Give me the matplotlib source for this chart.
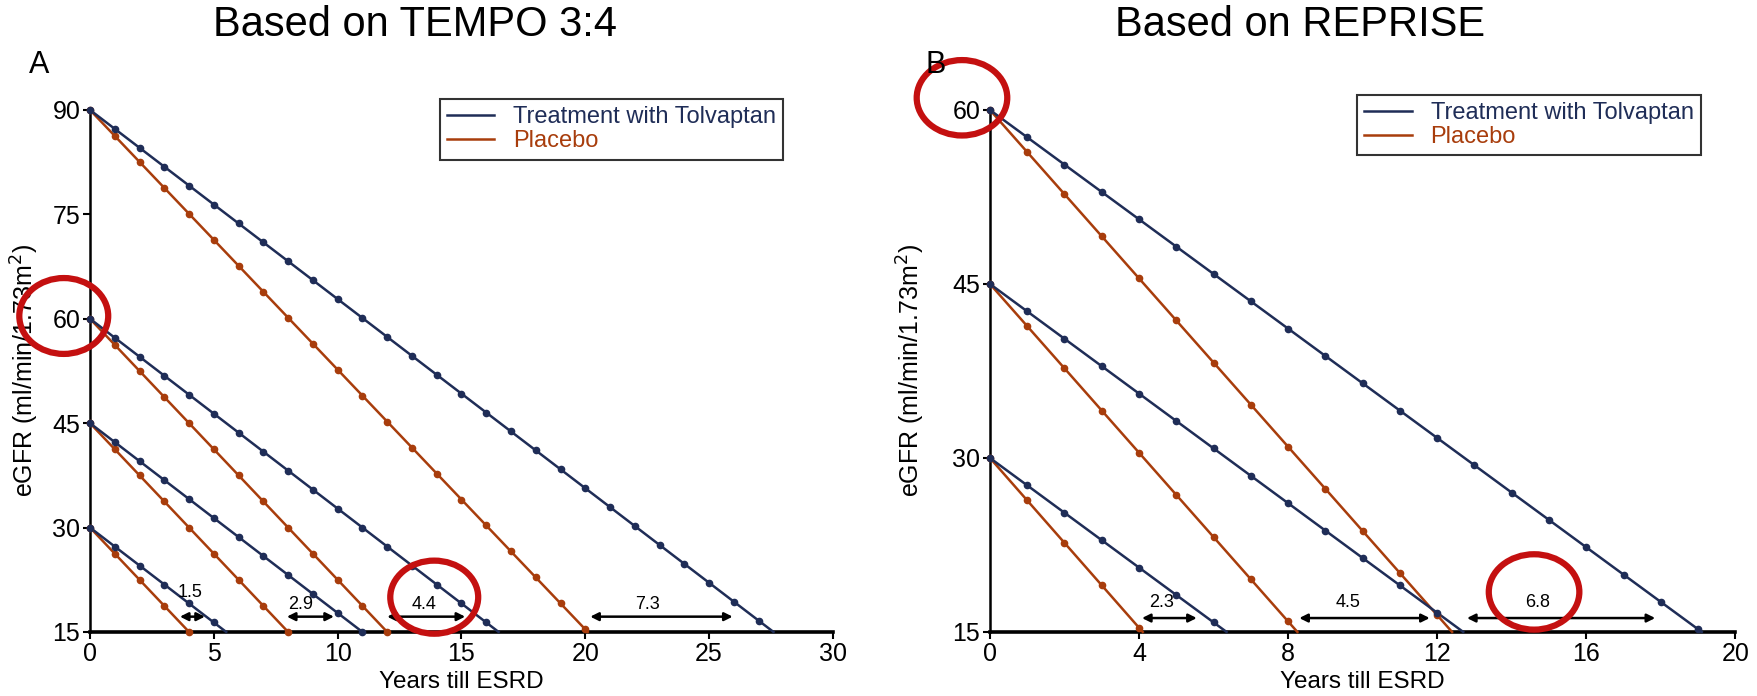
import numpy as np
import matplotlib
matplotlib.use("Agg")
import matplotlib.pyplot as plt
from matplotlib.patches import Ellipse

plt.rcParams.update({"font.family": ["Liberation Sans", "DejaVu Sans"], "font.size": 17})

navy = "#1f2d57"
rust = "#a83d0c"
ring = "#c41010"

# Panel A: TEMPO 3:4
a_start = [90, 60, 45, 30]
a_tolv_end = [27.6, 16.5, 11.0, 5.5]
a_plac_end = [20.1, 12.0, 8.0, 4.0]
a_gap_from = [3.63, 7.95, 12.0, 20.2]
a_gap_to = [4.64, 9.85, 15.15, 25.95]
a_gap_text = ["1.5", "2.9", "4.4", "7.3"]
a_gap_text_x = [4.05, 8.5, 13.5, 22.5]

# Panel B: REPRISE
b_start = [60, 45, 30]
b_tolv_end = [19.1, 12.7, 6.35]
b_plac_end = [12.4, 8.25, 4.1]
b_gap_from = [4.08, 8.3, 12.8]
b_gap_to = [5.55, 11.8, 17.85]
b_gap_text = ["2.3", "4.5", "6.8"]
b_gap_text_x = [4.6, 9.6, 14.7]

esrd = 15


def draw_line(ax, start, end, color, label=None):
    ax.plot([0, end], [start, esrd], color=color, lw=1.8, clip_on=False,
            label=label, zorder=3)
    yrs = np.arange(0, int(np.floor(end)) + 1)
    ax.plot(yrs, np.interp(yrs, [0, end], [start, esrd]), "o", color=color,
            ms=4.5, clip_on=False, zorder=4)


def panel(ax, start, tolv_end, plac_end, gfrom, gto, gtext, gtext_x,
          xmax, xticks, ymax, yticks, arrow_y, text_y):
    for i, s in enumerate(start):
        draw_line(ax, s, plac_end[i], rust, "Placebo" if i == 0 else None)
        draw_line(ax, s, tolv_end[i], navy,
                  "Treatment with Tolvaptan" if i == 0 else None)
    for i in range(len(gfrom)):
        ax.annotate("", xy=(gto[i], arrow_y), xytext=(gfrom[i], arrow_y),
                    arrowprops=dict(arrowstyle="<|-|>", color="black", lw=1.8,
                                    mutation_scale=12, shrinkA=0, shrinkB=0))
        ax.text(gtext_x[i], text_y[i], gtext[i], ha="center", va="center",
                fontsize=13)
    ax.set_xlim(0, xmax)
    ax.set_ylim(esrd, ymax)
    ax.set_xticks(xticks)
    ax.set_yticks(yticks)
    for sp in ["top", "right"]:
        ax.spines[sp].set_visible(False)
    ax.spines["left"].set_linewidth(1.8)
    ax.spines["bottom"].set_linewidth(2.6)
    ax.tick_params(direction="out", length=5, width=1.5, labelsize=18, pad=2)
    ax.set_xlabel("Years till ESRD", fontsize=17.5, labelpad=0)
    ax.set_ylabel("eGFR (ml/min/1.73m$^2$)", fontsize=18)
    h, l = ax.get_legend_handles_labels()
    return [h[1], h[0]], [l[1], l[0]]


def style_legend(leg):
    leg.get_frame().set_edgecolor("black")
    leg.get_frame().set_linewidth(1.5)
    for t, c in zip(leg.get_texts(), [navy, rust]):
        t.set_color(c)


fig = plt.figure(figsize=(17.58, 6.96), dpi=100)
ax1 = fig.add_axes([0.0512, 0.092, 0.4226, 0.75])
ax2 = fig.add_axes([0.5631, 0.092, 0.424, 0.75])

h, l = panel(ax1, a_start, a_tolv_end, a_plac_end, a_gap_from, a_gap_to,
             a_gap_text, a_gap_text_x, 30, range(0, 31, 5), 90,
             [15, 30, 45, 60, 75, 90], 17.2, [20.6, 19.0, 19.0, 19.0])
leg = ax1.legend(h, l, loc="upper left", bbox_to_anchor=(0.471, 1.021),
                 fontsize=17, frameon=True, fancybox=False, borderpad=0.3,
                 handlelength=2.0, labelspacing=0.1, borderaxespad=0)
style_legend(leg)
ax1.yaxis.set_label_coords(-0.066, 0.5)
ax1.xaxis.set_label_coords(0.5, -0.075)

h, l = panel(ax2, b_start, b_tolv_end, b_plac_end, b_gap_from, b_gap_to,
             b_gap_text, b_gap_text_x, 20, range(0, 21, 4), 60,
             [15, 30, 45, 60], 16.2, [17.5, 17.5, 17.5])
leg = ax2.legend(h, l, loc="upper left", bbox_to_anchor=(0.493, 1.029),
                 fontsize=17, frameon=True, fancybox=False, borderpad=0.3,
                 handlelength=2.0, labelspacing=0.1, borderaxespad=0)
style_legend(leg)
ax2.yaxis.set_label_coords(-0.085, 0.5)
ax2.xaxis.set_label_coords(0.5, -0.075)

# red highlight rings
for ax, (cx, cy, w, hh) in [(ax1, (-1.06, 60.4, 3.59, 10.9)),
                            (ax1, (13.9, 20.0, 3.55, 10.5)),
                            (ax2, (-0.75, 61.05, 2.43, 6.5)),
                            (ax2, (14.6, 18.45, 2.43, 6.5))]:
    ax.add_patch(Ellipse((cx, cy), w, hh, fill=False, ec=ring, lw=4.5,
                         clip_on=False, zorder=6))

fig.text(415 / 1758, 1 - 25 / 696, "Based on TEMPO 3:4", ha="center",
         va="center", fontsize=30)
fig.text(1300 / 1758, 1 - 25 / 696, "Based on REPRISE", ha="center",
         va="center", fontsize=30)
fig.text(39 / 1758, 1 - 65 / 696, "A", ha="center", va="center", fontsize=22)
fig.text(936 / 1758, 1 - 65 / 696, "B", ha="center", va="center", fontsize=22)

fig.savefig("out.png", dpi=100)
